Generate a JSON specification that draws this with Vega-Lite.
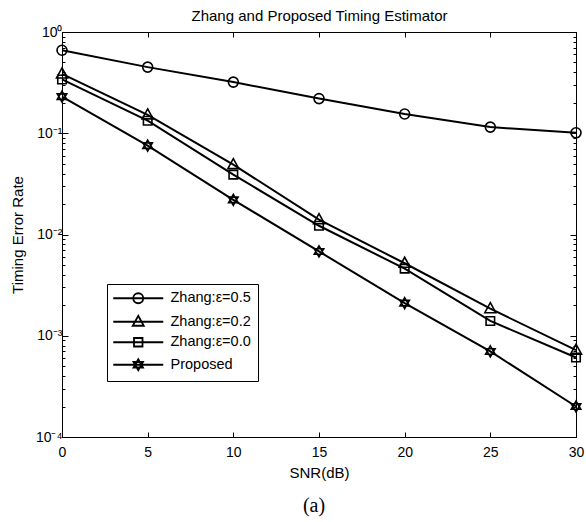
{
  "$schema": "https://vega.github.io/schema/vega-lite/v6.json",
  "width": 514,
  "height": 405,
  "autosize": {"type": "none"},
  "padding": {"left": 62, "top": 32, "right": 10, "bottom": 85},
  "background": "white",
  "title": {"text": "(a)", "orient": "bottom", "anchor": "middle", "font": "Liberation Serif", "fontSize": 20, "fontWeight": "normal", "color": "black", "offset": 16, "dx": -5},
  "config": {
    "font": "Liberation Sans",
    "view": {"stroke": "black", "strokeWidth": 1},
    "axis": {"grid": false, "domainColor": "black", "tickColor": "black", "domainWidth": 1, "tickWidth": 1, "labelColor": "black", "titleColor": "black", "labelFont": "Liberation Sans", "titleFont": "Liberation Sans", "labelFontSize": 14, "titleFontSize": 15, "titleFontWeight": "normal"}
  },
  "data": {"values": [
    {"snr": 0, "value": 0.66, "series": "Zhang:ε=0.5"},
    {"snr": 5, "value": 0.45, "series": "Zhang:ε=0.5"},
    {"snr": 10, "value": 0.32, "series": "Zhang:ε=0.5"},
    {"snr": 15, "value": 0.22, "series": "Zhang:ε=0.5"},
    {"snr": 20, "value": 0.155, "series": "Zhang:ε=0.5"},
    {"snr": 25, "value": 0.115, "series": "Zhang:ε=0.5"},
    {"snr": 30, "value": 0.101, "series": "Zhang:ε=0.5"},
    {"snr": 0, "value": 0.385, "series": "Zhang:ε=0.2"},
    {"snr": 5, "value": 0.152, "series": "Zhang:ε=0.2"},
    {"snr": 10, "value": 0.049, "series": "Zhang:ε=0.2"},
    {"snr": 15, "value": 0.014, "series": "Zhang:ε=0.2"},
    {"snr": 20, "value": 0.0052, "series": "Zhang:ε=0.2"},
    {"snr": 25, "value": 0.00185, "series": "Zhang:ε=0.2"},
    {"snr": 30, "value": 0.00072, "series": "Zhang:ε=0.2"},
    {"snr": 0, "value": 0.34, "series": "Zhang:ε=0.0"},
    {"snr": 5, "value": 0.133, "series": "Zhang:ε=0.0"},
    {"snr": 10, "value": 0.039, "series": "Zhang:ε=0.0"},
    {"snr": 15, "value": 0.0122, "series": "Zhang:ε=0.0"},
    {"snr": 20, "value": 0.0046, "series": "Zhang:ε=0.0"},
    {"snr": 25, "value": 0.0014, "series": "Zhang:ε=0.0"},
    {"snr": 30, "value": 0.00061, "series": "Zhang:ε=0.0"},
    {"snr": 0, "value": 0.23, "series": "Proposed"},
    {"snr": 5, "value": 0.0755, "series": "Proposed"},
    {"snr": 10, "value": 0.022, "series": "Proposed"},
    {"snr": 15, "value": 0.0068, "series": "Proposed"},
    {"snr": 20, "value": 0.0021, "series": "Proposed"},
    {"snr": 25, "value": 0.0007, "series": "Proposed"},
    {"snr": 30, "value": 0.0002, "series": "Proposed"}
  ]},
  "resolve": {"axis": {"x": "independent", "y": "independent"}},
  "layer": [
    {
      "mark": {"type": "line", "stroke": "black", "strokeWidth": 2, "clip": false},
      "encoding": {
        "x": {"field": "snr", "type": "quantitative", "scale": {"domain": [0, 30], "nice": false, "zero": false},
          "axis": {"orient": "bottom", "values": [0, 5, 10, 15, 20, 25, 30], "tickSize": -5, "labelPadding": 13, "title": "SNR(dB)", "titlePadding": 6, "labelFlush": false}},
        "y": {"field": "value", "type": "quantitative", "scale": {"type": "log", "domain": [0.0001, 1], "nice": false},
          "axis": {"orient": "left",
            "values": [0.0001,0.0002,0.0003,0.0004,0.0005,0.0006,0.0007,0.0008,0.0009,0.001,0.002,0.003,0.004,0.005,0.006,0.007,0.008,0.009,0.01,0.02,0.03,0.04,0.05,0.06,0.07,0.08,0.09,0.1,0.2,0.3,0.4,0.5,0.6,0.7,0.8,0.9,1],
            "labelExpr": "abs(log(datum.value)/LN10 - round(log(datum.value)/LN10)) < 0.000001 ? '10' + ['⁰','⁻¹','⁻²','⁻³','⁻⁴'][-round(log(datum.value)/LN10)] : ''",
            "labelOverlap": false, "labelFlush": false, "labelPadding": 6,
            "tickSize": {"condition": {"test": "abs(log(datum.value)/LN10 - round(log(datum.value)/LN10)) < 0.000001", "value": -6}, "value": -3},
            "title": "Timing Error Rate", "titlePadding": 10}},
        "detail": {"field": "series"}
      }
    },
    {
      "mark": {"type": "point", "filled": false, "strokeWidth": 1.6, "size": 100, "opacity": 1, "clip": false},
      "encoding": {
        "x": {"field": "snr", "type": "quantitative",
          "axis": {"orient": "top", "values": [0, 5, 10, 15, 20, 25, 30], "tickSize": -5, "labels": false, "title": "Zhang and Proposed Timing Estimator", "titlePadding": 8}},
        "y": {"field": "value", "type": "quantitative",
          "axis": {"orient": "right",
            "values": [0.0001,0.0002,0.0003,0.0004,0.0005,0.0006,0.0007,0.0008,0.0009,0.001,0.002,0.003,0.004,0.005,0.006,0.007,0.008,0.009,0.01,0.02,0.03,0.04,0.05,0.06,0.07,0.08,0.09,0.1,0.2,0.3,0.4,0.5,0.6,0.7,0.8,0.9,1],
            "labels": false, "title": null,
            "tickSize": {"condition": {"test": "abs(log(datum.value)/LN10 - round(log(datum.value)/LN10)) < 0.000001", "value": -6}, "value": -3}}},
        "shape": {"field": "series", "type": "nominal",
          "scale": {"domain": ["Proposed", "Zhang:ε=0.0", "Zhang:ε=0.2", "Zhang:ε=0.5"],
            "range": ["M0,-1.1L0.95,0.55L-0.95,0.55ZM0,1.1L0.95,-0.55L-0.95,-0.55Z", "M-0.85,-0.85H0.85V0.85H-0.85Z", "M0,-1.2L1.1,0.8L-1.1,0.8Z", "M1,0A1,1,0,1,1,-1,0A1,1,0,1,1,1,0Z"]},
          "legend": null},
        "stroke": {"field": "series", "type": "nominal",
          "scale": {"domain": ["Zhang:ε=0.5", "Zhang:ε=0.2", "Zhang:ε=0.0", "Proposed"], "range": ["black", "black", "black", "black"]},
          "legend": {"orient": "none", "legendX": 45, "legendY": 252, "title": null,
            "strokeColor": "black", "fillColor": "white", "padding": 7, "cornerRadius": 0,
            "labelFontSize": 14.5, "labelFont": "Liberation Sans", "labelColor": "black",
            "symbolSize": 100, "symbolStrokeWidth": 1.8, "symbolFillColor": "transparent", "symbolOpacity": 1,
            "symbolOffset": 17, "labelOffset": 25, "rowPadding": 4.5,
            "symbolType": {"expr": "'M-5,0H5' + (datum.value === 'Proposed' ? 'M0,-1.1L0.95,0.55L-0.95,0.55ZM0,1.1L0.95,-0.55L-0.95,-0.55Z' : datum.value === 'Zhang:ε=0.0' ? 'M-0.85,-0.85H0.85V0.85H-0.85Z' : datum.value === 'Zhang:ε=0.2' ? 'M0,-1.2L1.1,0.8L-1.1,0.8Z' : 'M1,0A1,1,0,1,1,-1,0A1,1,0,1,1,1,0Z')"}}
        }
      }
    }
  ]
}
